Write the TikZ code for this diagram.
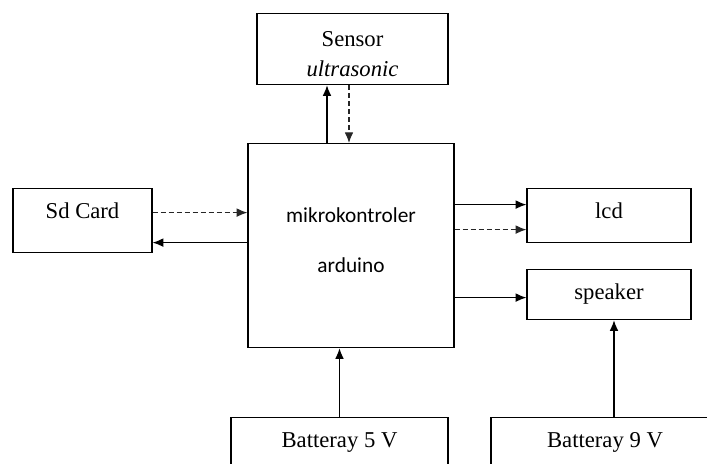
\documentclass[tikz,border=0pt]{standalone}
\usepackage{fontspec}
\setmainfont{Liberation Serif}
\newfontfamily\mcufont{Carlito}
\usetikzlibrary{arrows.meta,positioning,calc}

\begin{document}
\begin{tikzpicture}[x=0.75pt,y=-0.75pt,
  font=\fontsize{17}{22.5}\selectfont,
  box/.style={draw,line width=0.9pt,anchor=north,inner ysep=0pt,text height=22.5pt,align=center},
  ar/.style={-{Latex[length=8pt,width=6.5pt]},line width=0.9pt},
  dar/.style={ar,black!85,dash pattern=on 3.75pt off 2.25pt}]

\useasboundingbox (0,0) rectangle (707,464);
\clip (0,0) rectangle (707,464);

% sensor and controller
\node[box,minimum width=143.25pt,text height=47.25pt,text depth=6pt] (sensor) at (352.5,13) {Sensor\\\textit{ultrasonic}};
\node[box,minimum width=154.5pt,text height=96.75pt,text depth=56.25pt,font=\mcufont\fontsize{16}{37.5}\selectfont] (mcu) at (351,143) {mikrokontroler\\arduino};

% left / right
\node[box,minimum width=104.25pt,text depth=25.5pt] (sd) at (82.5,188) {Sd Card};
\node[box,minimum width=123pt,text depth=18pt] (lcd) at (609,188) {lcd};
\node[box,minimum width=123pt,text depth=15pt] (spk) at (609,269) {speaker};

% supplies
\node[box,minimum width=162.75pt,text depth=30pt] (bat5) at (339.5,417) {Batteray 5 V};
\node[box,minimum width=171pt,text depth=30pt] (bat9) at (605,417) {Batteray 9 V};

\draw[ar] ($(mcu.north)+(-24,0)$) -- ($(sensor.south)+(-25.5,0)$);
\draw[dar] ($(sensor.south)+(-3.5,0)$) -- ($(mcu.north)+(-2,0)$);
\draw[dar] ($(sd.east)+(0,-8)$) -- ($(mcu.west)+(0,-33)$);
\draw[ar] ($(mcu.west)+(0,-3)$) -- ($(sd.east)+(0,22)$);
\draw[ar] ($(mcu.east)+(0,-41)$) -- ($(lcd.west)+(0,-11)$);
\draw[dar] ($(mcu.east)+(0,-16)$) -- ($(lcd.west)+(0,14)$);
\draw[ar] ($(mcu.east)+(0,52)$) -- ($(spk.west)+(0,3)$);
\draw[ar] (bat5.north) -- ($(mcu.south)+(-11.5,0)$);
\draw[ar] ($(bat9.north)+(9,0)$) -- ($(spk.south)+(5,0)$);
\end{tikzpicture}
\end{document}
